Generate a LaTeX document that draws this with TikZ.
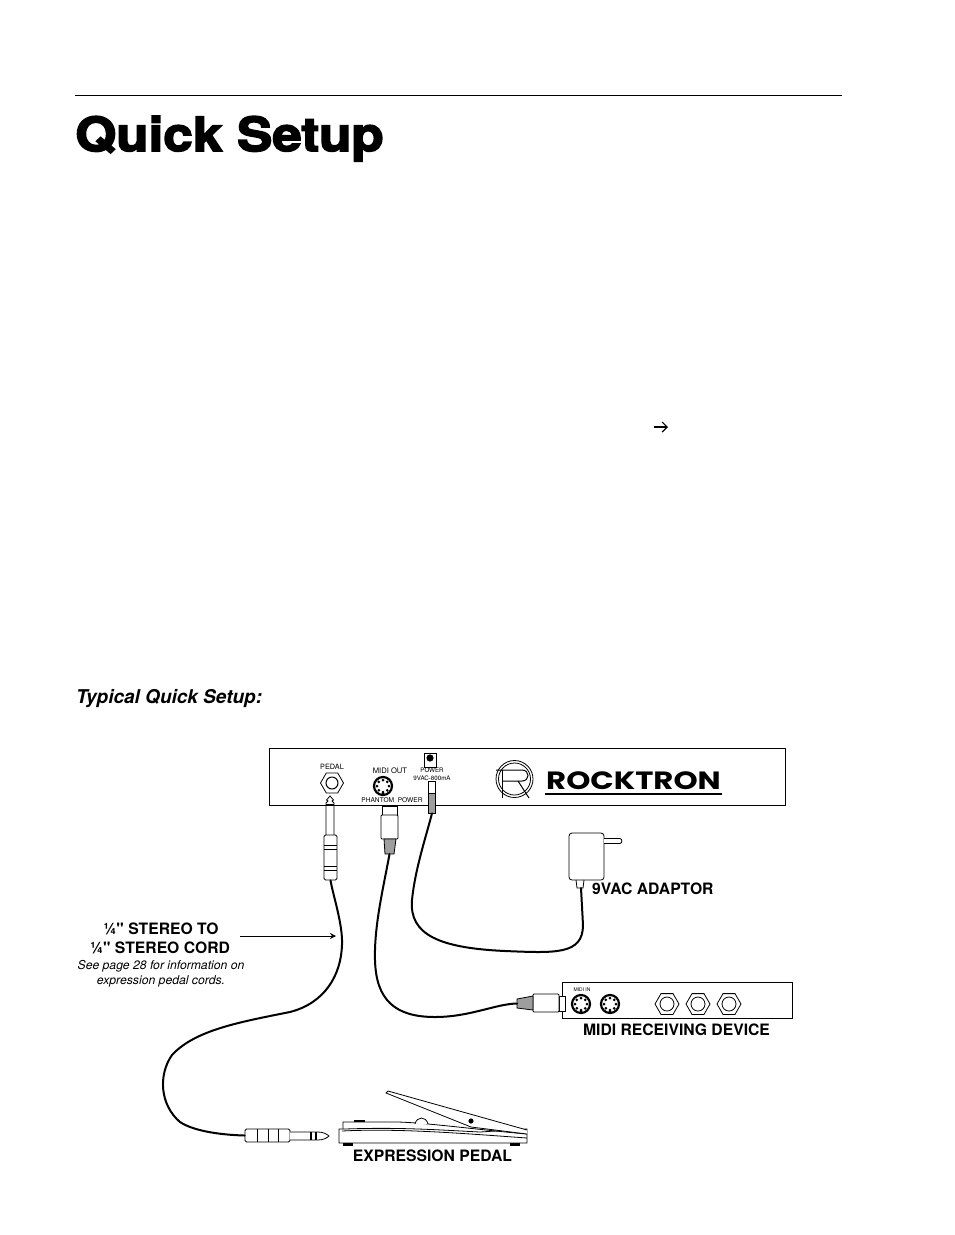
\documentclass[tikz,border=0pt]{standalone}
\usepackage{fontspec}
\setmainfont[Ligatures=TeXOff]{TeX Gyre Heros}
\newfontfamily\titlefont[FakeBold=3.4,FakeStretch=1.125]{TeX Gyre Heros Bold}
\newfontfamily\logofont[FakeStretch=1.23]{Poppins Bold}
\usetikzlibrary{shapes.geometric,arrows.meta}
\definecolor{plugfill}{gray}{0.62}
\tikzset{
    caption/.style={font=\bfseries\fontsize{15.7}{17}\selectfont, inner sep=0pt},
    tiny label/.style={font=\fontsize{#1}{#1}\selectfont, inner sep=0pt},
    cable/.style={line width=2pt, line cap=round},
    outline/.style={line width=0.8pt, fill=white},
    grip/.style={line width=0.8pt, fill=plugfill},
    hexjack/.style={regular polygon, regular polygon sides=6, draw, line width=0.8pt, minimum size=#1, inner sep=0pt},
    din/.style={circle, draw, line width=2.2pt, minimum size=#1, inner sep=0pt}
}
% one socket with its pins
\newcommand{\dinpins}[1]{
    \foreach \pinangle in {0,45,...,315}{
        \fill (#1)+(\pinangle:6pt) circle (1.5pt);
    }
    \fill (#1)+(270:8pt) circle (1.7pt);
}
\begin{document}
\begin{tikzpicture}[x=1pt, y=-1pt]
    \useasboundingbox (0,0) rectangle (954,1235);

    % Page heading
    \draw[line width=0.9pt] (75,95) -- (842,95);
    \node[anchor=base west, inner sep=0pt, font=\titlefont\fontsize{47}{50}\selectfont] (title) at (75,151) {Quick Setup};
    \node[anchor=base west, inner sep=0pt, font=\bfseries\itshape\fontsize{19}{21}\selectfont] (subtitle) at (76,703) {Typical Quick Setup:};
    \coordinate (arrowtail) at (654,427);
    \coordinate (arrowhead) at (668,427);
    \draw[-{Straight Barb[length=5pt,width=10pt]}, line width=1.2pt] (arrowtail) -- (arrowhead);

    % Rear panel
    \node[draw, line width=0.8pt, minimum width=516pt, minimum height=57pt, inner sep=0pt] (panel) at (527,776.5) {};
    \node[hexjack=23pt] (pedaljack) at (332,783) {};
    \node[circle, draw, line width=1pt, minimum size=12pt, inner sep=0pt] at (pedaljack) {};
    \node[tiny label=7.3] (pedallabel) at (332,767) {PEDAL};
    \node[tiny label=7.6] (midioutlabel) at (390,770.5) {MIDI OUT};
    \node[din=18pt] (midiout) at (383,786) {};
    \dinpins{midiout}
    \node[fill=white, tiny label=6.6, inner ysep=0.5pt] (phantom) at (392,800) {PHANTOM\ \ POWER};
    \node[draw, line width=0.8pt, minimum width=12pt, minimum height=14pt, inner sep=0pt] (powerjack) at (430,760) {};
    \fill (430,758) circle (3.6pt);
    \node[tiny label=6.2] (powerlabel) at (432,770) {POWER};
    \node[tiny label=6.2] (voltlabel) at (432,778) {9VAC-800mA};

    % Logo
    \node[circle, draw, line width=0.8pt, minimum size=37pt, inner sep=0pt] (logoring) at (514.5,779) {};
    \node[circle, draw, line width=0.8pt, minimum size=32pt, inner sep=0pt] at (logoring) {};
    \draw[line width=1pt] (496,770) -- (522,770) .. controls (530,770) and (530,781) .. (522,781) -- (502,781);
    \draw[line width=1pt] (502,770) -- (502,798);
    \draw[line width=1pt] (518,781) -- (529,798);
    \node[anchor=base west, inner sep=0pt, font=\logofont\fontsize{25}{25}\selectfont] (logo) at (546,789.5) {ROCKTRON};
    \draw[line width=2pt] (545,793.5) -- (722,793.5);

    % Stereo plug at the pedal jack
    \draw[outline] (326,835) -- (326,803) -- (328,801) -- (326.5,800) -- (330,796) -- (333.5,800) -- (332,801) -- (334,803) -- (334,835);
    \draw[line width=1.6pt] (326,805) -- (334,805);
    \node[draw, fill=white, rounded corners=1.5pt, line width=0.8pt, minimum width=13pt, minimum height=45pt, inner sep=0pt] (topsleeve) at (330.5,857.5) {};
    \foreach \bandy in {845,849,866,870}{
        \draw[line width=0.8pt] (324,\bandy) -- (337,\bandy);
    }

    % MIDI plug at the panel
    \node[draw, fill=white, line width=0.8pt, minimum width=15pt, minimum height=9pt, inner sep=0pt] (midineck) at (389.5,811) {};
    \node[draw, fill=white, rounded corners=1pt, line width=0.8pt, minimum width=17pt, minimum height=24pt, inner sep=0pt] (midibody) at (389.5,827) {};
    \draw[grip] (384,839) -- (396,839) -- (394,854) -- (385,854) -- cycle;
    \coordinate (midigrip) at (389.5,854);

    % Power plug at the panel
    \node[draw, fill=white, line width=0.8pt, minimum width=7pt, minimum height=12pt, inner sep=0pt] (powerpin) at (432,787.5) {};
    \node[draw, fill=plugfill, line width=0.8pt, minimum width=7pt, minimum height=20pt, inner sep=0pt] (powergrip) at (432,803) {};

    % Adaptor
    \node[draw, rounded corners=3pt, line width=0.8pt, minimum width=35pt, minimum height=47pt, inner sep=0pt] (adaptor) at (586.5,856.5) {};
    \draw[line width=0.8pt, fill=white] (604,838.5) -- (620,838.5) .. controls (622.5,839) and (622.5,843) .. (620,843.5) -- (604,843.5);
    \draw[line width=0.8pt] (576,880) -- (577,888) -- (583,888) -- (584,880);
    \coordinate (adaptortail) at (581,888);

    % MIDI receiving device
    \node[draw, line width=0.8pt, minimum width=230pt, minimum height=36pt, inner sep=0pt] (device) at (677,1000) {};
    \node[tiny label=5] (midiinlabel) at (582,990) {MIDI IN};
    \foreach \dinx/\dinname in {581/dina, 610/dinb}{
        \node[din=18pt] (\dinname) at (\dinx,1004) {};
        \dinpins{\dinname}
    }
    \foreach \jackx in {667,698,729}{
        \node[hexjack=24pt] (jack\jackx) at (\jackx,1004) {};
        \node[circle, draw, line width=0.8pt, minimum size=14pt, inner sep=0pt] at (jack\jackx) {};
    }
    \draw[outline] (559,996) rectangle (565,1011);
    \node[draw, fill=white, rounded corners=1pt, line width=0.8pt, minimum width=26pt, minimum height=18pt, inner sep=0pt] (devicebody) at (546,1003) {};
    \draw[grip] (533,996) -- (533,1010) -- (517,1008) -- (517,999) -- cycle;
    \coordinate (devicegrip) at (517,1003.5);

    % Expression pedal
    \draw[line width=0.8pt, fill=white] (339,1129) -- (339,1143) -- (527,1143) -- (527,1129) -- (480,1132) .. controls (440,1130) and (400,1127) .. (345,1129) -- cycle;
    \draw[line width=0.8pt] (343,1129) -- (343,1122) -- (398,1122) .. controls (430,1123) and (480,1130) .. (527,1134);
    \draw[line width=0.8pt] (342,1131) .. controls (400,1128) and (470,1134) .. (527,1138);
    \draw[line width=0.8pt, fill=white] (415,1124) .. controls (417,1116) and (426,1116) .. (428,1124);
    \draw[line width=0.8pt, fill=white] (527,1130) -- (388,1091) -- (386,1093) -- (471,1127) -- (527,1134);
    \fill (471,1121) circle (2.6pt);
    \draw[line width=2pt] (354,1121) -- (365,1121);
    \draw[line width=2.2pt] (343,1144.5) -- (353,1144.5);
    \draw[line width=2.2pt] (510,1144.5) -- (520,1144.5);

    % Stereo plug at the pedal end
    \node[draw, fill=white, rounded corners=1.5pt, line width=0.8pt, minimum width=45pt, minimum height=13pt, inner sep=0pt] (lowsleeve) at (267.5,1135.5) {};
    \foreach \bandx in {257,268,278}{
        \draw[line width=0.8pt] (\bandx,1129) -- (\bandx,1142);
    }
    \draw[outline] (290,1132) -- (318,1132) .. controls (323,1132) and (327,1134) .. (329,1136) .. controls (327,1138) and (323,1140) .. (318,1140) -- (290,1140);
    \draw[line width=1.3pt] (311,1132) -- (311,1140);
    \draw[line width=1.3pt] (316,1132) -- (316,1140);

    % Cables
    \draw[cable] (topsleeve.south) .. controls (333,895) and (343,925) .. (342,945)
        .. controls (341,975) and (325,1003) .. (290,1012)
        .. controls (240,1022) and (195,1030) .. (172,1055)
        .. controls (158,1075) and (160,1105) .. (180,1122)
        .. controls (195,1132) and (225,1135) .. (lowsleeve.west);
    \draw[cable] (midigrip) .. controls (384,885) and (374,925) .. (375,960)
        .. controls (376,1000) and (395,1017) .. (435,1017)
        .. controls (470,1017) and (495,1004) .. (devicegrip);
    \draw[cable] (powergrip.south) .. controls (425,840) and (415,870) .. (412,900)
        .. controls (409,935) and (440,948) .. (505,951)
        .. controls (555,953) and (583,955) .. (583,925) -- (adaptortail);

    % Captions
    \node[caption, anchor=base west] (adaptorcap) at (592,894) {9VAC ADAPTOR};
    \node[caption, anchor=base] (devicecap) at (676.5,1035.5) {MIDI RECEIVING DEVICE};
    \node[caption, anchor=base] (pedalcap) at (432.5,1161) {EXPRESSION PEDAL};
    \node[caption, anchor=base] (cordtop) at (161,934) {¼" STEREO TO};
    \node[caption, anchor=base] (cordlow) at (160,953) {¼" STEREO CORD};
    \node[anchor=base, inner sep=0pt, font=\itshape\fontsize{12.2}{13}\selectfont] (notetop) at (161,969) {See page 28 for information on};
    \node[anchor=base, inner sep=0pt, font=\itshape\fontsize{12.2}{13}\selectfont] (notelow) at (161,984) {expression pedal cords.};
    \coordinate (cordarrow) at (240,936);
    \coordinate (cordend) at (336,936);
    \draw[-{Stealth[length=6pt,width=6pt]}, line width=0.8pt] (cordarrow) -- (cordend);
\end{tikzpicture}
\end{document}
